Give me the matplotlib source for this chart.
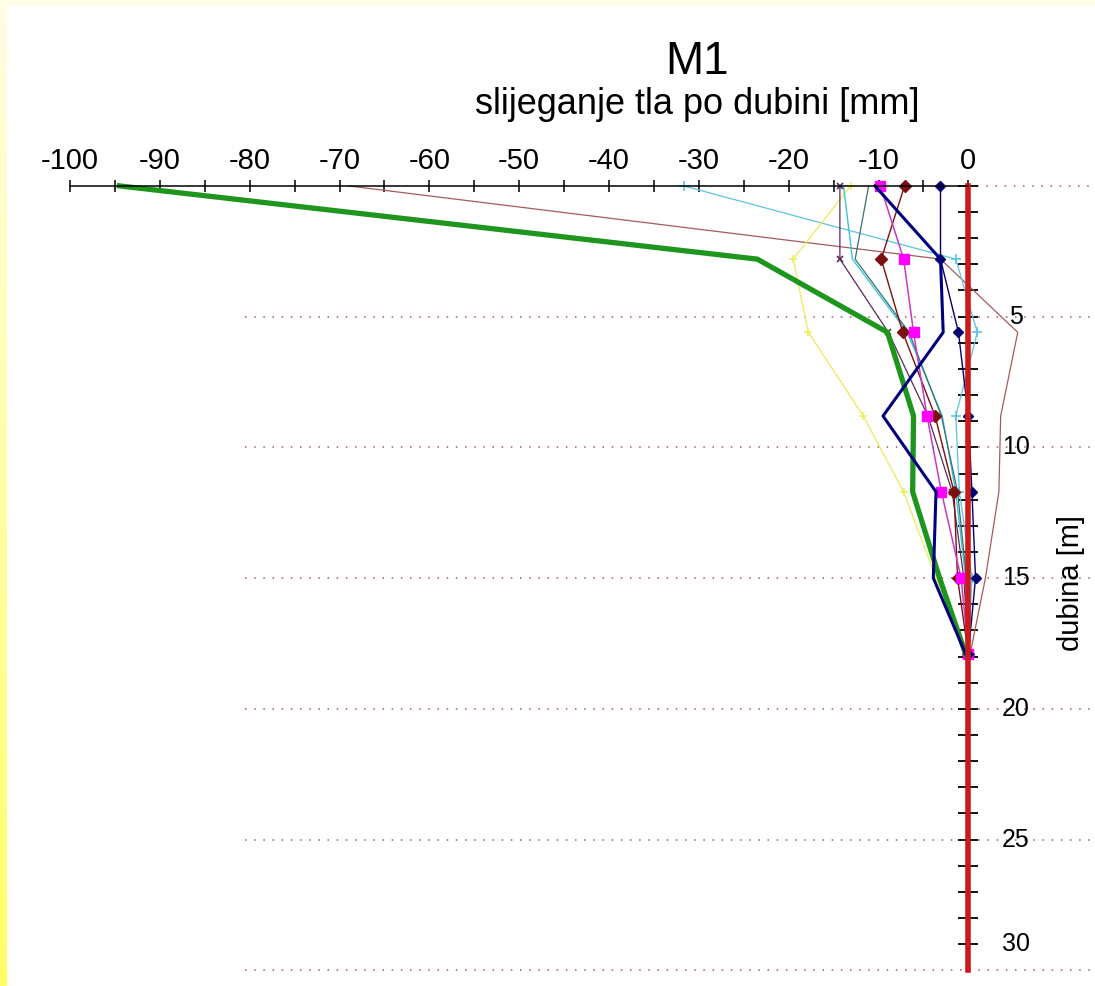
import numpy as np
import matplotlib
matplotlib.use('Agg')
import matplotlib.pyplot as plt
from matplotlib.colors import LinearSegmentedColormap
from matplotlib.patches import Rectangle

plt.rcParams['font.family'] = ['Liberation Sans', 'DejaVu Sans']

# dubina mjernih tocaka [m]
dubina = [0, 2.8, 5.6, 8.8, 11.7, 15.0, 17.9]

# slijeganje [mm] po mjerenjima
s_zelena = [-94.5, -23.5, -9.0, -6.1, -6.2, -3.2, -0.3]
s_plava = [-10.4, -3.1, -2.8, -9.5, -3.6, -3.9, -0.3]
s_plava_d = [-3.1, -3.1, -1.1, 0.0, 0.4, 0.8, 0.0]
s_magenta = [-9.8, -7.2, -6.1, -4.6, -3.0, -0.8, 0.0]
s_bordo = [-7.1, -9.7, -7.3, -3.7, -1.6, -1.2, 0.0]
s_zuta = [-13.1, -19.5, -17.8, -11.7, -7.2, -3.6, 0.0]
s_svplava = [-31.7, -1.4, 1.0, -1.4, -1.0, 0.4, 0.0]
s_smeda = [-69.0, -3.1, 5.5, 3.6, 3.4, 1.9, 0.2]
s_ljubicasta = [-14.3, -14.3, -8.9, -4.5, -1.8, -0.5, 0.0]
s_tirkiz = [-11.1, -12.6, -6.6, -3.0, -1.2, -0.2, 0.0]
s_cijan = [-13.9, -12.9, -6.8, -2.9, -1.4, -0.3, 0.0]

x_ticks = list(range(-100, 1, 10))
dubina_oznake = [5, 10, 15, 20, 25, 30]

fig = plt.figure(figsize=(10.95, 9.86), dpi=100)
fig.patch.set_facecolor('white')
ax = fig.add_axes([0, 0, 1, 1])
ax.set_facecolor('white')
ax.set_xlim(-107.8, 14.1)
ax.set_ylim(30.6, -7.11)

# mreza
ax.hlines([5, 10, 15, 20, 25, 30], -80.5, 14.1, colors='#a85858',
          linestyles=(0, (1, 5)), linewidth=1.1, zorder=1)
ax.hlines([0], 0, 14.1, colors='#a85858', linestyles=(0, (1, 5)),
          linewidth=1.1, zorder=1)

# mjerenja
ax.plot(s_smeda, dubina, color='#a65a5a', lw=0.9)
ax.plot(s_svplava, dubina, color='#5cc4e0', lw=0.9, marker='+', ms=7, mew=1.2)
ax.plot(s_zuta, dubina, color='#eeec66', lw=1.0, marker='+', ms=6, mew=1.2)
ax.plot(s_cijan, dubina, color='#3cc4d4', lw=1.0)
ax.plot(s_tirkiz, dubina, color='#3a7070', lw=0.9)
ax.plot(s_ljubicasta, dubina, color='#5a2a5a', lw=0.9, marker='x', ms=5, mew=1.2)
ax.plot(s_bordo, dubina, color='#7a1010', lw=1.0, marker='D', ms=6)
ax.plot(s_magenta, dubina, color='#c838c8', lw=1.1, marker='s', ms=7,
        mfc='#ff00ff', mec='#ff00ff')
ax.plot(s_plava_d, dubina, color='#000070', lw=1.0, marker='D', ms=5)
ax.plot(s_zelena, dubina, color='#1e961e', lw=3.8)
ax.plot(s_plava, dubina, color='#00007f', lw=2.2)

# osi
ax.spines['left'].set_visible(False)
ax.spines['bottom'].set_visible(False)
ax.spines['top'].set_position(('data', 0))
ax.spines['top'].set_bounds(-100, 0)
ax.spines['top'].set_linewidth(1.1)
ax.spines['right'].set_position(('data', 0))
ax.spines['right'].set_bounds(0, 30)
ax.spines['right'].set_color('#cc1a1a')
ax.spines['right'].set_linewidth(4)

ax.xaxis.tick_top()
ax.set_xticks(x_ticks)
ax.set_xticklabels([str(v) for v in x_ticks])
ax.set_xticks(list(range(-95, 0, 10)), minor=True)
ax.tick_params(axis='x', which='both', direction='inout', length=8, width=1.1,
               labelsize=21, pad=4)

ax.yaxis.tick_right()
ax.set_yticks([])
ax.set_yticks(list(range(0, 30)), minor=True)
ax.tick_params(axis='y', which='minor', direction='inout', length=14, width=1.3,
               colors='black')

for d in dubina_oznake:
    ax.text(5.3, min(d, 29), str(d), ha='center', va='center', fontsize=18)

fig.text(697 / 1095, 1 - 62 / 986, 'M1', ha='center', va='center', fontsize=33)
fig.text(697 / 1095, 1 - 105 / 986, 'slijeganje tla po dubini [mm]',
         ha='center', va='center', fontsize=26)
fig.text(1071 / 1095, 1 - 583 / 986, 'dubina [m]', ha='center', va='center',
         rotation=90, fontsize=21)

# zuti rub
cmap = LinearSegmentedColormap.from_list('rub', ['#fffde4', '#ffff66'])
bax = fig.add_axes([0, 0, 7 / 1095, 1])
bax.imshow(np.linspace(0, 1, 256).reshape(-1, 1), cmap=cmap, aspect='auto')
bax.axis('off')
fig.patches.append(Rectangle((0, 1 - 5 / 986), 1, 5 / 986,
                             transform=fig.transFigure, color='#fffde8', zorder=5))

fig.savefig('out.png', dpi=100)
